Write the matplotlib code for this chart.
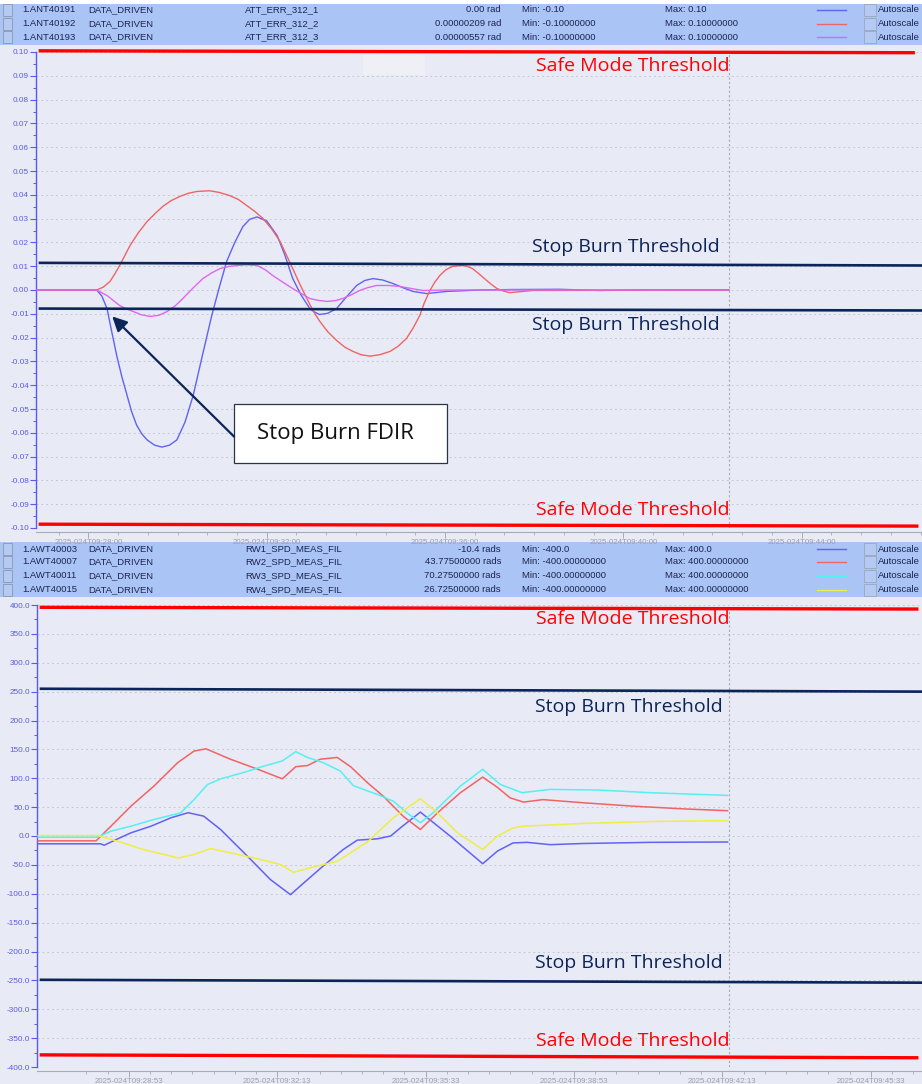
import matplotlib
matplotlib.use('Agg')
import matplotlib.pyplot as plt
from matplotlib.patches import Rectangle
from matplotlib.lines import Line2D
from matplotlib.ticker import MultipleLocator, FuncFormatter, FixedLocator

W, H = 922, 1084

# ---------------- data (time = seconds after 2025-024T09:28:00) ----------------
att1_t = [-69, 11, 18, 25, 31, 38, 45, 52, 58, 65, 72, 79, 89, 99, 109, 119, 130, 141, 153, 166, 176, 186, 197, 208, 217, 227, 240, 254, 264, 275, 286, 298, 304, 311, 322, 334, 347, 361, 372, 383, 396, 410, 423, 437, 455, 482, 527, 571, 634, 688, 755, 862]
att1_v = [0, 0, -0.0025, -0.0078, -0.0170, -0.0275, -0.0365, -0.0443, -0.0510, -0.0569, -0.0605, -0.0630, -0.0652, -0.0660, -0.0652, -0.0630, -0.0555, -0.0443, -0.0280, -0.0107, 0.0010, 0.0120, 0.0200, 0.0267, 0.0297, 0.0307, 0.0290, 0.0229, 0.0150, 0.0048, -0.0020, -0.0078, -0.0092, -0.0103, -0.0098, -0.0078, -0.0030, 0.0019, 0.0040, 0.0048, 0.0042, 0.0027, 0.0010, -0.0006, -0.0015, -0.0006, 0.0000, 0.0002, 0.0003, -0.0002, 0.0001, 0.0000]

att2_t = [-69, 11, 20, 29, 35, 42, 56, 67, 79, 90, 100, 111, 123, 134, 146, 163, 176, 190, 202, 213, 224, 235, 247, 258, 266, 275, 284, 294, 302, 311, 322, 334, 345, 356, 367, 379, 392, 406, 417, 428, 437, 446, 452, 459, 466, 473, 481, 490, 502, 509, 517, 526, 536, 543, 550, 558, 567, 598, 862]
att2_v = [0, 0, 0.0012, 0.0036, 0.0065, 0.0103, 0.0187, 0.0240, 0.0288, 0.0322, 0.0351, 0.0375, 0.0393, 0.0406, 0.0414, 0.0417, 0.0410, 0.0397, 0.0380, 0.0355, 0.0330, 0.0300, 0.0255, 0.0204, 0.0150, 0.0090, 0.0028, -0.0036, -0.0085, -0.0130, -0.0175, -0.0212, -0.0240, -0.0258, -0.0272, -0.0278, -0.0272, -0.0258, -0.0236, -0.0204, -0.0160, -0.0107, -0.0055, -0.0006, 0.0032, 0.0061, 0.0085, 0.0099, 0.0103, 0.0100, 0.0090, 0.0067, 0.0040, 0.0022, 0.0006, -0.0004, -0.0011, -0.0002, 0]

att3_t = [-69, 11, 25, 35, 42, 50, 60, 71, 83, 95, 106, 117, 127, 140, 154, 166, 177, 189, 200, 213, 227, 238, 248, 262, 275, 287, 298, 310, 321, 332, 342, 354, 365, 376, 388, 404, 419, 435, 450, 482, 862]
att3_v = [0, 0, -0.0023, -0.0048, -0.0065, -0.0078, -0.0090, -0.0104, -0.0111, -0.0106, -0.0090, -0.0066, -0.0036, 0.0006, 0.0048, 0.0072, 0.0090, 0.0099, 0.0103, 0.0106, 0.0103, 0.0085, 0.0061, 0.0032, 0.0006, -0.0016, -0.0036, -0.0044, -0.0048, -0.0045, -0.0036, -0.0020, -0.0002, 0.0010, 0.0019, 0.0019, 0.0015, 0.0006, -0.0002, 0, 0]

rw1_t = [-69, 15, 20, 38, 56, 83, 110, 133, 154, 177, 213, 244, 271, 294, 315, 342, 361, 388, 406, 419, 446, 486, 530, 550, 571, 590, 621, 665, 755, 860]
rw1_v = [-13.5, -13.5, -16, -5, 5.5, 17, 31.6, 40.3, 34.4, 11, -35, -75.5, -101.6, -75.5, -52, -23.4, -7.2, -4.9, 0, 14, 41.4, 0, -48, -26, -12, -11, -15, -13, -11, -10.4]

rw2_t = [-69, 9, 29, 56, 87, 119, 141, 157, 190, 227, 260, 278, 294, 311, 334, 352, 375, 396, 423, 446, 469, 500, 530, 550, 567, 585, 611, 665, 732, 800, 860]
rw2_v = [-8.4, -8.4, 17, 51.7, 86.5, 127, 147, 151, 133, 115.5, 99, 120, 122, 133, 136, 120, 92, 69, 34, 11.3, 40, 75, 102, 84, 66, 58.7, 63, 57.6, 51.7, 47, 43.8]

rw3_t = [-69, 11, 29, 56, 87, 123, 141, 159, 177, 208, 235, 260, 278, 294, 315, 338, 356, 375, 388, 410, 428, 446, 463, 500, 530, 554, 583, 621, 688, 755, 860]
rw3_v = [-2, -2, 8.4, 17, 28.6, 40, 63, 89, 99, 110, 121, 130, 146, 136, 127, 112.5, 87, 78, 72, 60, 40, 23, 40, 86.5, 115.5, 89, 75, 80.7, 79.5, 75, 70.3]

rw4_t = [-69, 11, 38, 73, 120, 141, 163, 190, 227, 258, 275, 298, 334, 352, 375, 410, 446, 469, 496, 530, 550, 571, 585, 665, 755, 860]
rw4_v = [0.9, 0.9, -9, -23.4, -38, -32, -21.7, -29, -39.6, -49.5, -62.8, -55, -43.7, -29, -10, 32, 64.6, 40, 5.5, -23.4, 0, 14, 17, 21.7, 25, 26.7]

# threshold annotation lines (value at left end, value at right end)
top_safe_hi = [0.1005, 0.0997]
top_safe_lo = [-0.0984, -0.0992]
top_stop_hi = [0.0114, 0.0103]
top_stop_lo = [-0.0078, -0.0086]
bot_safe_hi = [396, 393]
bot_safe_lo = [-379, -384]
bot_stop_hi = [255, 250]
bot_stop_lo = [-249, -254]

cursor_t = 862

top_rows = [
    ("1.ANT40191", "DATA_DRIVEN", "ATT_ERR_312_1", "0.00 rad", "Min: -0.10", "Max: 0.10"),
    ("1.ANT40192", "DATA_DRIVEN", "ATT_ERR_312_2", "0.00000209 rad", "Min: -0.10000000", "Max: 0.10000000"),
    ("1.ANT40193", "DATA_DRIVEN", "ATT_ERR_312_3", "0.00000557 rad", "Min: -0.10000000", "Max: 0.10000000"),
]
bot_rows = [
    ("1.AWT40003", "DATA_DRIVEN", "RW1_SPD_MEAS_FIL", "-10.4 rads", "Min: -400.0", "Max: 400.0"),
    ("1.AWT40007", "DATA_DRIVEN", "RW2_SPD_MEAS_FIL", "43.77500000 rads", "Min: -400.00000000", "Max: 400.00000000"),
    ("1.AWT40011", "DATA_DRIVEN", "RW3_SPD_MEAS_FIL", "70.27500000 rads", "Min: -400.00000000", "Max: 400.00000000"),
    ("1.AWT40015", "DATA_DRIVEN", "RW4_SPD_MEAS_FIL", "26.72500000 rads", "Min: -400.00000000", "Max: 400.00000000"),
]

# ---------------- styles ----------------
BG = '#e8eaf6'
HDR = '#a9c4f5'
C_BLUE = '#6262f2'
C_RED = '#f06464'
C_MAG = '#e066ee'
C_CYAN = '#55f0f0'
C_YEL = '#eeee44'
NAVY = '#0b2559'
SPINE = '#5a5af0'
GRID = '#c6c8d6'
TXT = '#1c2550'
top_colors = [C_BLUE, C_RED, C_MAG]
bot_colors = [C_BLUE, C_RED, C_CYAN, C_YEL]

fig = plt.figure(figsize=(W / 100, H / 100), dpi=100, facecolor=BG)


def fx(x):
    return x / W


def fy(y):
    return 1 - y / H


def header(y0, y1, rows, colors, row_y):
    fig.add_artist(Rectangle((0, fy(y1)), 1, (y1 - y0) / H, transform=fig.transFigure,
                             facecolor=HDR, edgecolor='none', zorder=0))
    for i, (r, yy) in enumerate(zip(rows, row_y)):
        kw = dict(va='center', fontsize=6.8, color=TXT, family='Liberation Sans')
        fig.text(fx(22), fy(yy), r[0], ha='left', **kw)
        fig.text(fx(88), fy(yy), r[1], ha='left', **kw)
        fig.text(fx(245), fy(yy), r[2], ha='left', **kw)
        fig.text(fx(501), fy(yy), r[3], ha='right', **kw)
        fig.text(fx(522), fy(yy), r[4], ha='left', **kw)
        fig.text(fx(665), fy(yy), r[5], ha='left', **kw)
        fig.text(fx(878), fy(yy), "Autoscale", ha='left', **kw)
        fig.add_artist(Line2D([fx(817), fx(846)], [fy(yy), fy(yy)], transform=fig.transFigure,
                              color=colors[i], lw=1.0))
        fig.add_artist(Rectangle((fx(864), fy(yy + 6)), 12 / W, 12 / H, transform=fig.transFigure,
                                 facecolor='#b4caf2', edgecolor='#9aa6bc', lw=0.6))
        fig.add_artist(Rectangle((fx(3), fy(yy + 6)), 9 / W, 12 / H, transform=fig.transFigure,
                                 facecolor='#b4caf2', edgecolor='#8d97ab', lw=0.6))


fig.add_artist(Rectangle((0, fy(4)), 1, 4 / H, transform=fig.transFigure,
                         facecolor='white', edgecolor='none', zorder=0))
header(4, 45, top_rows, top_colors, [10, 24, 37])
header(542, 597, bot_rows, bot_colors, [549, 562, 576, 590])


def time_label(s, pos):
    tot = int(round(9 * 3600 + 28 * 60 + s))
    h, rem = divmod(tot, 3600)
    m, sec = divmod(rem, 60)
    return f"2025-024T{h:02d}:{m:02d}:{sec:02d}"


def style_axes(ax, yfmt):
    ax.set_facecolor(BG)
    for sp in ['top', 'right']:
        ax.spines[sp].set_visible(False)
    ax.spines['left'].set_color(SPINE)
    ax.spines['left'].set_linewidth(1.0)
    ax.spines['bottom'].set_color('#a8aab8')
    ax.spines['bottom'].set_linewidth(0.8)
    ax.spines['bottom'].set_position(('outward', 3))
    ax.xaxis.set_major_formatter(FuncFormatter(time_label))
    ax.yaxis.set_major_formatter(FuncFormatter(lambda v, p: yfmt % v))
    ax.tick_params(axis='x', which='major', length=4, width=0.7, color='#a8aab8',
                   labelcolor='#9c9eae', labelsize=5.7, pad=1)
    ax.tick_params(axis='x', which='minor', length=2, width=0.6, color='#a8aab8')
    ax.tick_params(axis='y', which='major', length=4, width=0.8, color=SPINE,
                   labelcolor='#5c5ce4', labelsize=5.9, pad=1)
    ax.tick_params(axis='y', which='minor', length=2, width=0.7, color=SPINE)
    for lab in ax.get_xticklabels() + ax.get_yticklabels():
        lab.set_family('Liberation Sans')
    ax.yaxis.grid(True, which='major', linestyle=(0, (2, 3)), color=GRID, lw=0.7)
    ax.set_axisbelow(True)
    ax.axvline(cursor_t, color='#a6a8ba', ls=(0, (2, 2)), lw=0.8, zorder=1)


def thr(ax, vals, color, lw, x1=0.996):
    ax.plot([0.003, x1], vals, color=color, lw=lw, transform=ax.get_yaxis_transform(),
            clip_on=False, solid_capstyle='butt', zorder=5)


# ---------------- top chart ----------------
ax1 = fig.add_axes([fx(36), fy(528), 1 - fx(36), (528 - 52) / H])
ax1.set_xlim(-70.6, 1122)
ax1.set_ylim(-0.1, 0.1)
ax1.xaxis.set_major_locator(MultipleLocator(240))
ax1.xaxis.set_minor_locator(MultipleLocator(40))
ax1.yaxis.set_major_locator(MultipleLocator(0.01))
ax1.yaxis.set_minor_locator(MultipleLocator(0.005))
style_axes(ax1, '%.2f')

for t, v, c in zip([att1_t, att2_t, att3_t], [att1_v, att2_v, att3_v], top_colors):
    ax1.plot(t, v, color=c, lw=1.0, zorder=3)

thr(ax1, top_safe_hi, '#ff0000', 2.4, 0.992)
thr(ax1, top_safe_lo, '#ff0000', 2.4)
thr(ax1, top_stop_hi, NAVY, 1.9, 1.0)
thr(ax1, top_stop_lo, NAVY, 1.9, 1.0)

TF = dict(family='Open Sans', fontsize=14, va='center', zorder=6)
ax1.text(863, 0.0943, 'Safe Mode Threshold', ha='right', color='#ff0000', **TF)
ax1.text(863, -0.0924, 'Safe Mode Threshold', ha='right', color='#ff0000', **TF)
ax1.text(850, 0.0179, 'Stop Burn Threshold', ha='right', color=NAVY, **TF)
ax1.text(850, -0.0145, 'Stop Burn Threshold', ha='right', color=NAVY, **TF)

ax1.add_patch(Rectangle((196, -0.0725), 286, 0.0248, facecolor='white',
                        edgecolor='#2b3348', lw=0.9, zorder=6))
ax1.text(333, -0.0601, 'Stop Burn FDIR', ha='center', va='center', color='#111111',
         family='Open Sans', fontsize=16, zorder=7)
ax1.annotate('', xy=(32, -0.0111), xytext=(196, -0.0616),
             arrowprops=dict(arrowstyle='-|>', color=NAVY, lw=1.6, mutation_scale=22,
                             shrinkA=0, shrinkB=0), zorder=7)
fig.add_artist(Rectangle((fx(363), fy(75)), 62 / W, 20 / H, transform=fig.transFigure,
                         facecolor='#eef0f6', edgecolor='none', zorder=1))

# ---------------- bottom chart ----------------
ax2 = fig.add_axes([fx(37), fy(1067), 1 - fx(37), (1067 - 605) / H])
ax2.set_xlim(-70.6, 1122)
ax2.set_ylim(-400, 400)
ax2.xaxis.set_major_locator(FixedLocator([53 + 200 * k for k in range(6)]))
ax2.xaxis.set_minor_locator(FixedLocator([53 + 200 * k / 7 for k in range(-2, 38)]))
ax2.yaxis.set_major_locator(MultipleLocator(50))
ax2.yaxis.set_minor_locator(MultipleLocator(25))
style_axes(ax2, '%.1f')

for t, v, c in zip([rw1_t, rw2_t, rw3_t, rw4_t], [rw1_v, rw2_v, rw3_v, rw4_v], bot_colors):
    ax2.plot(t, v, color=c, lw=1.1, zorder=3)

thr(ax2, bot_safe_hi, '#ff0000', 2.4)
thr(ax2, bot_safe_lo, '#ff0000', 2.4)
thr(ax2, bot_stop_hi, NAVY, 1.9, 1.0)
thr(ax2, bot_stop_lo, NAVY, 1.9, 1.0)

ax2.text(863, 375.9, 'Safe Mode Threshold', ha='right', color='#ff0000', **TF)
ax2.text(863, -355, 'Safe Mode Threshold', ha='right', color='#ff0000', **TF)
ax2.text(854, 223, 'Stop Burn Threshold', ha='right', color=NAVY, **TF)
ax2.text(854, -219.6, 'Stop Burn Threshold', ha='right', color=NAVY, **TF)

fig.savefig('out.png', dpi=100, facecolor=BG)
